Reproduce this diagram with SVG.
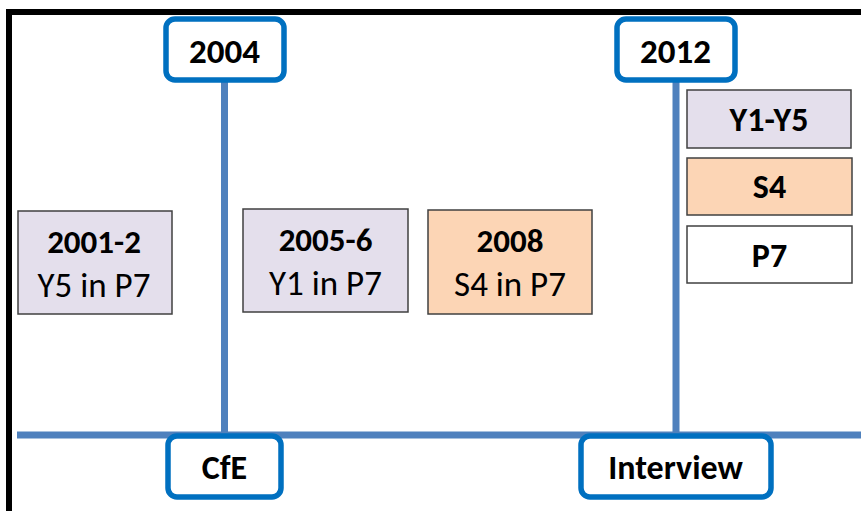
<svg xmlns="http://www.w3.org/2000/svg" width="861" height="511" viewBox="0 0 861 511">
<style>
.lbl{fill:#fff;stroke:#0070C0;stroke-width:5.5}
.card{stroke:#404040;stroke-width:1.5}
.lav{fill:#E4DFEC}
.peach{fill:#FCD5B5}
.wh{fill:#fff}
text{font-family:Carlito,Lato,"Liberation Sans",sans-serif;fill:#000;text-anchor:middle}
.b{font-weight:bold}
.tl{stroke:#4F81BD;stroke-width:7;fill:none}
</style>
<rect width="861" height="511" fill="#fff"/>
<path d="M9,515 V12 H865" fill="none" stroke="#000" stroke-width="6"/>
<g id="connectors">
<line class="tl" x1="17" y1="435" x2="861" y2="435"/>
<line class="tl" x1="224.5" y1="82" x2="224.5" y2="435"/>
<line class="tl" x1="676" y1="82" x2="676" y2="435"/>
</g>
<g id="n2004"><rect class="lbl" x="166" y="19" width="118" height="61" rx="9"/><text class="b" x="224.5" y="62.5" font-size="35">2004</text></g>
<g id="n2012"><rect class="lbl" x="617" y="19" width="118" height="61" rx="9"/><text class="b" x="675.5" y="62.5" font-size="35">2012</text></g>
<g id="nCfE"><rect class="lbl" x="168" y="436" width="113" height="61" rx="9"/><text class="b" x="224.5" y="479" font-size="34">CfE</text></g>
<g id="nInterview"><rect class="lbl" x="581" y="436" width="190" height="61" rx="9"/><text class="b" x="675.5" y="479" font-size="34">Interview</text></g>
<g id="n2001"><rect class="card lav" x="18" y="211" width="154" height="103"/><text class="b" x="94" y="253" font-size="33">2001-2</text><text x="94" y="297" font-size="35">Y5 in P7</text></g>
<g id="n2005"><rect class="card lav" x="243" y="209" width="165" height="103"/><text class="b" x="325.5" y="251" font-size="33">2005-6</text><text x="325.5" y="295" font-size="35">Y1 in P7</text></g>
<g id="n2008"><rect class="card peach" x="428" y="210" width="164" height="104"/><text class="b" x="510" y="252" font-size="33">2008</text><text x="510" y="296" font-size="35">S4 in P7</text></g>
<g id="nY1Y5"><rect class="card lav" x="687" y="90" width="164" height="58"/><text class="b" x="769" y="131" font-size="34">Y1-Y5</text></g>
<g id="nS4"><rect class="card peach" x="687" y="158" width="165" height="57"/><text class="b" x="769.5" y="198" font-size="34">S4</text></g>
<g id="nP7"><rect class="card wh" x="687" y="226" width="165" height="57"/><text class="b" x="769.5" y="267" font-size="34">P7</text></g>
</svg>
